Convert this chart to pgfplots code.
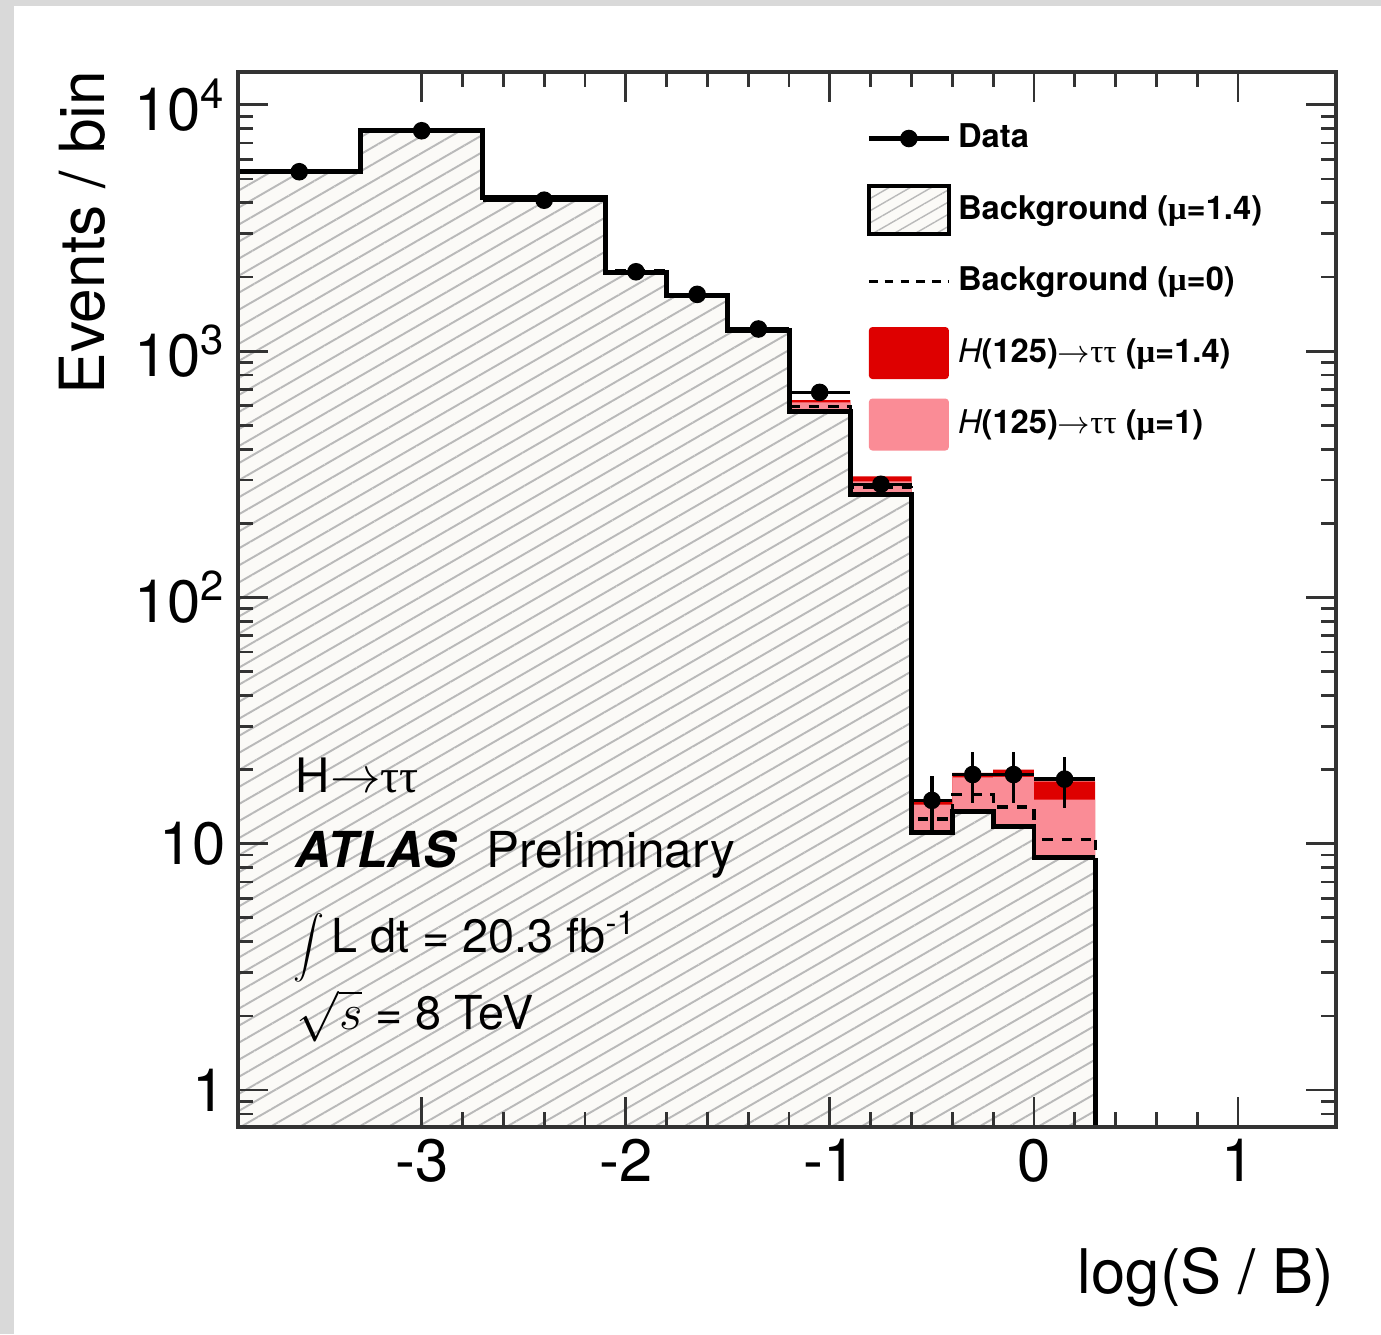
\documentclass[border=0pt]{standalone}
\usepackage{fontspec}
\setmainfont{TeX Gyre Heros}
\newfontfamily\symf{Liberation Serif}
\usepackage{graphicx}
\usepackage{pgfplots}
\pgfplotsset{compat=1.18}
\usepackage{pgfplotstable}
\usetikzlibrary{patterns.meta}

\definecolor{hred}{RGB}{222,0,0}
\definecolor{hpink}{RGB}{250,140,150}
\definecolor{hatchbg}{RGB}{251,250,247}
\definecolor{hatchln}{RGB}{185,185,185}

% bin left edges (last row = right edge of last bin)
\pgfplotstableread{
x     bg    s1    s14   bg0
-3.9  5350  5350  5350  5400
-3.3  7900  7900  7900  7960
-2.7  4190  4190  4190  4240
-2.1  2094  2094  2094  2115
-1.8  1676  1676  1676  1695
-1.5  1216  1228  1234  1235
-1.2  570   620   632   597
-0.9  262   296   310   280
-0.6  11.1  14.4  15.1  12.6
-0.4  13.5  18.6  19.4  15.8
-0.2  11.8  18.7  20.0  14.1
0.0   8.77  15.1  17.9  10.4
0.3   8.77  15.1  17.9  10.4
}\hist

\pgfplotstableread{
x      y     ex    ey
-3.6   5350  0.3   73
-3.0   7850  0.3   89
-2.4   4100  0.3   64
-1.95  2100  0.15  46
-1.65  1700  0.15  41
-1.35  1230  0.15  35
-1.05  680   0.15  26
-0.75  288   0.15  17
-0.5   15.0  0.1   3.9
-0.3   19.1  0.1   4.4
-0.1   19.1  0.1   4.4
0.15   18.3  0.15  4.3
}\data

\begin{document}
\begin{tikzpicture}
\useasboundingbox (0,0) rectangle (13.81,13.34);
\fill[gray!30] (0,0) rectangle (13.81,13.34);
\fill[white] (0.14,0) rectangle (13.81,13.28);
\begin{axis}[
    at={(2.38cm,2.07cm)}, anchor=south west,
    scale only axis,
    width=10.98cm, height=10.55cm,
    xmin=-3.9, xmax=1.48,
    ymode=log, ymin=0.708, ymax=13600,
    log origin y=infty,
    axis on top,
    xtick={-3,-2,-1,0,1},
    xticklabels={-3,-2,-1,0,1},
    minor x tick num=4,
    ytick={1,10,100,1000,10000},
    yticklabels={1,10,10\textsuperscript{2},10\textsuperscript{3},10\textsuperscript{4}},
    minor ytick={0.8,0.9,2,3,4,5,6,7,8,9,20,30,40,50,60,70,80,90,200,300,400,500,600,700,800,900,2000,3000,4000,5000,6000,7000,8000,9000},
    tick align=inside,
    major tick length=0.3cm,
    minor tick length=0.15cm,
    tick style={black!80, line width=0.8pt},
    axis line style={black!80, line width=1pt},
    tick label style={font=\fontsize{17}{20}\selectfont},
    legend style={at={(0.572,0.966)}, anchor=north west, draw=none, fill=none,
        inner sep=0pt, row sep=0.115cm,
        font=\bfseries\fontsize{9.3}{11}\selectfont,
        /tikz/every even column/.append style={column sep=0.26cm}},
    legend cell align=left,
]
% legend entries
\addlegendimage{black, legend image code/.code={
    \path[draw=none, fill=none] (0cm,-0.3cm) rectangle (0.8cm,0.3cm);
    \draw[black, line width=1.2pt] (0cm,0cm) -- (0.8cm,0cm);
    \fill[black] (0.4cm,0cm) circle (2.3pt);}}
\addlegendentry{Data}
\addlegendimage{black, legend image code/.code={
    \path[draw=none, fill=none] (0cm,-0.3cm) rectangle (0.8cm,0.3cm);
    \draw[black, line width=1.1pt, fill=hatchbg, postaction={pattern={Lines[angle=30,distance=3pt,line width=0.4pt]}, pattern color=hatchln}] (0cm,-0.24cm) rectangle (0.8cm,0.24cm);}}
\addlegendentry{Background ({\symf μ}=1.4)}
\addlegendimage{black, legend image code/.code={
    \path[draw=none, fill=none] (0cm,-0.3cm) rectangle (0.8cm,0.3cm);
    \draw[black, line width=0.9pt, dash pattern=on 2.5pt off 2pt] (0cm,0cm) -- (0.8cm,0cm);}}
\addlegendentry{Background ({\symf μ}=0)}
\addlegendimage{black, legend image code/.code={
    \path[draw=none, fill=none] (0cm,-0.3cm) rectangle (0.8cm,0.3cm);
    \fill[hred, draw=none, rounded corners=1pt] (0cm,-0.26cm) rectangle (0.8cm,0.26cm);}}
\addlegendentry{{\mdseries\itshape H}(125)$\rightarrow${\mdseries\symf ττ} ({\symf μ}=1.4)}
\addlegendimage{black, legend image code/.code={
    \path[draw=none, fill=none] (0cm,-0.3cm) rectangle (0.8cm,0.3cm);
    \fill[hpink, draw=none, rounded corners=1pt] (0cm,-0.26cm) rectangle (0.8cm,0.26cm);}}
\addlegendentry{{\mdseries\itshape H}(125)$\rightarrow${\mdseries\symf ττ} ({\symf μ}=1)}

% stacked histograms
\addplot[const plot, fill=hred, draw=none, forget plot] table[x=x,y=s14]{\hist} \closedcycle;
\addplot[const plot, fill=hpink, draw=none, forget plot] table[x=x,y=s1]{\hist} \closedcycle;
\addplot[const plot, fill=hatchbg, draw=none, forget plot,
    postaction={pattern={Lines[angle=30,distance=4.2pt,line width=0.55pt]}, pattern color=hatchln}]
    table[x=x,y=bg]{\hist} \closedcycle;
% background mu=0
\addplot[const plot, black, line width=0.9pt, dash pattern=on 3pt off 2.5pt, forget plot] table[x=x,y=bg0]{\hist};
\addplot[black, line width=0.9pt, dash pattern=on 3pt off 2.5pt, forget plot] coordinates {(0.3,10.4) (0.3,8.77)};
% background outline
\addplot[const plot, black, line width=1.4pt, forget plot] table[x=x,y=bg]{\hist};
\addplot[black, line width=1.4pt, forget plot] coordinates {(0.3,8.77) (0.3,0.5)};
% data
\addplot[only marks, mark=*, mark size=2.3pt, black, forget plot,
    error bars/.cd, x dir=both, x explicit, y dir=both, y explicit,
    error mark=none, error bar style={line width=1pt}]
    table[x=x,y=y,x error=ex,y error=ey]{\data};

\node[anchor=base west, inner sep=0pt, font=\fontsize{13.5}{16}\selectfont] at (rel axis cs:0.052,0.3175) {H$\rightarrow${\symf ττ}};
\node[anchor=base west, inner sep=0pt, font=\fontsize{14.1}{16}\selectfont] at (rel axis cs:0.052,0.2455) {{\bfseries\itshape ATLAS}\hspace{0.3cm}Preliminary};
\node[anchor=base west, font=\fontsize{13.3}{16}\selectfont, inner sep=0pt] at (rel axis cs:0.050,0.165) {\raisebox{-0.06cm}{\scalebox{0.88}{$\displaystyle\int$}}\hspace{0.07cm}L dt = 20.3 fb\textsuperscript{-1}};
\node[anchor=base west, font=\fontsize{13.3}{16}\selectfont, inner sep=0pt] at (rel axis cs:0.053,0.092) {$\sqrt{s}$ = 8 TeV};
\end{axis}
\node[rotate=90, anchor=east, inner sep=0pt, font=\fontsize{17.7}{20}\selectfont] at (0.82,12.64) {Events / bin};
\node[anchor=base east, inner sep=0pt, font=\fontsize{17.5}{20}\selectfont] at (13.35,0.41) {log(S / B)};
\end{tikzpicture}
\end{document}
